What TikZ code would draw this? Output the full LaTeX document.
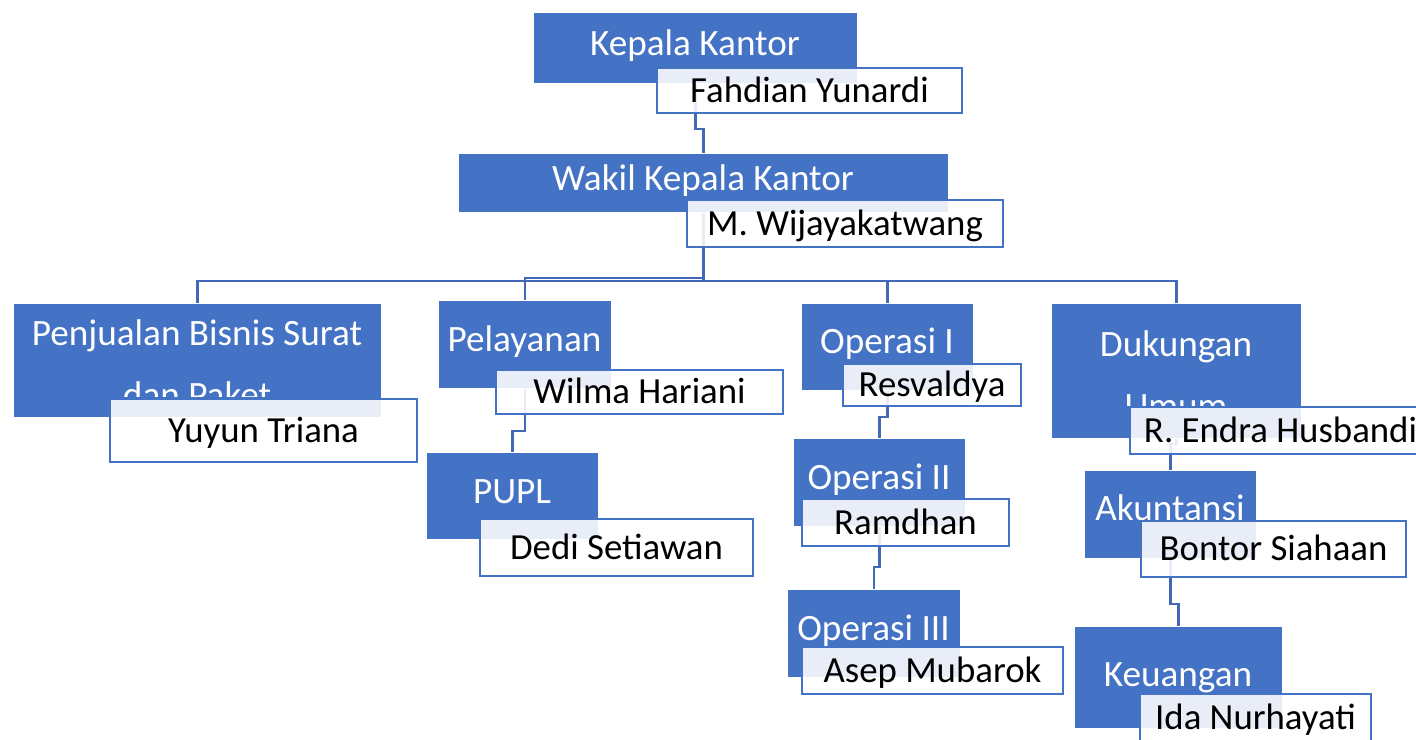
\documentclass[tikz,border=0pt]{standalone}
\usepackage{fontspec}
\setmainfont{Carlito}
\definecolor{ablue}{HTML}{4472C4}
\definecolor{cblue}{HTML}{4169B8}
\tikzset{
  bluebox/.style={draw=white, line width=0.5pt, fill=ablue, inner sep=0pt, anchor=north west},
  bluetxt/.style={text=white, inner sep=0pt, anchor=base, align=center,
    font=\fontsize{18.6}{31}\selectfont},
  namebox/.style={draw=ablue, line width=1.2pt, fill=white, fill opacity=0.88, text opacity=1,
    inner sep=0pt, text=black, text height=11.8pt, text depth=0pt,
    font=\fontsize{18.4}{22}\selectfont},
  conn/.style={draw=cblue, line width=1.3pt}
}
\newcommand{\bluebox}[5]{\node[bluebox, minimum width={(#4-#2)*0.5pt}, minimum height={(#5-#3)*0.5pt}] (#1) at (#2,#3) {};}
\newcommand{\namebox}[6]{\node[namebox, minimum width={(#4-#2)*0.5pt}, minimum height={(#5-#3)*0.5pt}] (#1) at ({(#2+#4)/2},{(#3+#5)/2}) {#6};}
\begin{document}
\begin{tikzpicture}[x=0.5pt,y=-0.5pt]
\useasboundingbox (0,0) rectangle (1416,739);
\fill[white] (0,0) rectangle (1416,739);
\clip (0,0) rectangle (1416,739);
% blue boxes
\bluebox{kk}{533}{12}{857}{83}
\bluebox{wk}{458}{153}{948}{212}
\bluebox{pj}{13}{303}{381}{417}
\bluebox{pl}{438}{300}{611}{388}
\bluebox{pu}{426}{452}{598}{539}
\bluebox{oa}{801}{303}{973}{390}
\bluebox{ob}{793}{438}{965}{526}
\bluebox{oc}{787}{589}{960}{677}
\bluebox{du}{1051}{303}{1301}{438}
\bluebox{ak}{1084}{470}{1256}{558}
\bluebox{ke}{1074}{626}{1282}{728}
% connectors
\draw[conn] (kk.south) -- ++(0,45) -| (wk.north);
\draw[conn] (wk.south) -- ++(0,68) -| (pj.north);
\draw[conn] (wk.south) -- ++(0,65) -| (pl.north);
\draw[conn] (wk.south) -- ++(0,68) -| (oa.north);
\draw[conn] (wk.south) -- ++(0,68) -| (du.north);
\draw[conn] (pl.south) -- ++(0,42) -| (pu.north);
\draw[conn] (oa.south) -- ++(0,26) -| (ob.north);
\draw[conn] (ob.south) -- ++(0,40) -| (oc.north);
\draw[conn] (du.south) -- ++(0,5) -| (ak.north);
\draw[conn] (ak.south) -- ++(0,45) -| (ke.north);
% blue texts
\node[bluetxt] (kkt) at (695,55) {Kepala Kantor};
\node[bluetxt] (wkt) at (703,190) {Wakil Kepala Kantor};
\begin{scope}
\clip (13,303) rectangle (381,396);
\node[bluetxt] (pjt) at (197,407) {Penjualan Bisnis Surat\\dan Paket};
\end{scope}
\node[bluetxt] (plt) at (524.5,351) {Pelayanan};
\node[bluetxt] (put) at (512,503) {PUPL};
\node[bluetxt] (oat) at (887,353) {Operasi I};
\node[bluetxt] (obt) at (879,489) {Operasi II};
\node[bluetxt] (oct) at (873.5,640) {Operasi III};
\begin{scope}
\clip (1051,303) rectangle (1301,405);
\node[bluetxt] (dut) at (1176,418) {Dukungan\\Umum};
\end{scope}
\begin{scope}
\clip (1084,470) rectangle (1256,519);
\node[bluetxt] (akt) at (1170,520) {Akuntansi};
\end{scope}
\node[bluetxt] (ket) at (1178,686) {Keuangan};
% name boxes
\namebox{nkk}{657}{68}{962}{113}{Fahdian Yunardi}
\namebox{nwk}{687}{200}{1003}{247}{M. Wijayakatwang}
\namebox{npj}{110}{399}{417}{462}{Yuyun Triana}
\namebox{npl}{496}{370}{783}{414}{Wilma Hariani}
\namebox{npu}{480}{519}{753}{576}{Dedi Setiawan}
\namebox{noa}{843}{364}{1021}{406}{Resvaldya}
\namebox{nob}{802}{499}{1009}{546}{Ramdhan}
\namebox{noc}{802}{647}{1063}{694}{Asep Mubarok}
\namebox{ndu}{1130}{407}{1431}{454}{R. Endra Husbandi}
\namebox{nak}{1141}{521}{1406}{577}{Bontor Siahaan}
\namebox{nke}{1140}{694}{1371}{741}{Ida Nurhayati}
\end{tikzpicture}
\end{document}
